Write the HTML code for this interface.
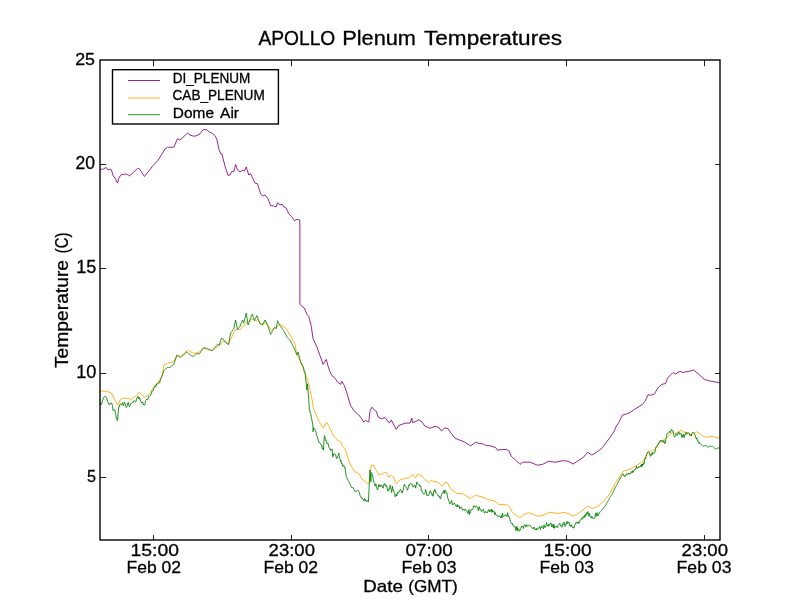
<!DOCTYPE html>
<html><head><meta charset="utf-8"><style>
html,body{margin:0;padding:0;background:#fff;width:800px;height:600px;overflow:hidden}
svg{display:block}
text{font-family:"Liberation Sans",sans-serif}
.tx{will-change:transform}
</style></head><body>
<svg width="800" height="600" viewBox="0 0 800 600">
<rect width="800" height="600" fill="#fff"/>
<defs><clipPath id="ax"><rect x="100" y="60" width="620" height="480"/></clipPath></defs>
<g clip-path="url(#ax)" fill="none" stroke-width="0.85" stroke-opacity="1.0" stroke-linejoin="round" stroke-linecap="butt">
<polyline stroke="#800080" points="100.00,169.00 102.50,169.40 106.25,167.50 108.10,170.00 110.00,169.10 111.50,170.00 113.10,175.60 115.00,178.10 117.50,183.10 118.75,178.10 121.25,174.60 125.60,174.00 127.50,174.60 129.60,175.90 137.50,168.50 139.40,168.75 144.40,176.50 152.50,166.25 158.10,160.25 165.00,149.00 167.50,147.25 173.75,147.25 177.50,138.75 180.00,140.00 187.50,133.10 190.00,135.00 193.75,136.25 196.90,135.60 200.00,133.75 203.10,129.75 206.90,129.75 208.75,131.50 212.50,133.50 215.00,135.60 216.90,139.40 218.75,148.75 220.60,153.75 221.90,153.75 225.00,166.25 228.10,175.40 230.00,175.00 231.90,171.25 233.75,171.90 235.60,164.40 237.50,170.00 240.00,171.90 243.10,170.00 244.40,171.00 246.25,166.90 248.75,175.00 250.60,173.75 255.00,183.10 257.50,183.75 260.60,193.75 262.50,196.00 265.00,195.00 268.10,198.75 270.60,205.60 273.75,206.00 276.25,206.90 277.50,202.75 280.00,204.75 282.50,204.40 283.75,206.90 286.25,208.10 288.75,213.75 291.25,216.25 294.40,220.60 296.90,219.40 299.85,220.00 299.85,304.40 301.90,306.25 304.40,308.10 306.90,314.40 308.75,316.25 311.25,326.25 313.10,338.75 316.90,346.90 320.00,355.60 323.10,364.40 326.25,359.40 328.10,366.25 330.00,371.90 331.90,375.60 334.40,377.50 337.50,381.90 340.60,384.40 341.90,381.25 344.40,385.60 346.90,393.10 350.60,405.60 354.40,411.25 360.00,416.25 363.75,421.90 365.60,420.40 368.75,422.10 370.00,411.25 371.90,407.25 374.40,410.00 376.25,411.25 378.10,416.90 381.25,418.75 385.00,417.50 389.40,423.10 391.25,420.00 396.25,429.40 398.75,425.60 405.00,423.10 410.00,423.10 411.90,418.10 412.50,422.50 415.00,421.90 418.75,419.75 421.90,421.90 425.00,426.25 430.00,428.30 435.00,426.25 438.75,427.50 441.50,431.00 445.00,427.75 448.10,428.75 451.25,433.50 455.00,438.10 460.00,440.25 464.40,441.90 470.60,445.90 475.60,442.25 479.40,443.50 482.50,443.75 485.60,445.40 490.00,445.75 495.60,447.50 497.50,450.25 500.00,449.75 506.25,449.40 508.75,450.60 511.25,456.25 516.25,460.60 520.00,464.40 522.50,462.25 530.00,462.10 537.50,465.25 542.50,464.40 548.75,461.25 555.00,462.25 563.10,460.60 568.10,461.25 573.10,464.00 577.50,461.25 583.75,456.90 587.50,452.25 591.90,455.00 598.10,451.25 602.50,447.50 610.00,437.50 613.75,431.90 616.25,426.25 618.75,422.50 622.50,415.00 626.25,414.00 630.00,412.50 634.40,409.40 642.50,404.40 645.00,401.25 648.10,394.75 650.60,395.25 654.40,394.00 658.10,387.50 661.90,384.40 665.60,383.50 667.50,378.10 673.10,372.50 675.60,374.00 680.00,371.25 682.50,372.50 688.10,371.50 693.75,370.00 698.10,373.75 704.40,379.40 710.00,381.00 715.00,381.90 720.00,382.75"/>
<polyline stroke="#ffa500" points="100.00,390.90 105.60,391.25 111.25,392.80 117.50,405.30 120.60,399.40 123.75,398.10 128.75,398.40 131.25,399.40 136.25,395.60 139.40,392.20 144.40,397.50 146.90,396.25 150.00,392.80 152.50,388.75 158.75,381.90 162.50,375.00 163.75,365.00 167.50,363.10 173.75,361.90 176.90,355.60 180.60,356.25 188.10,350.25 193.10,353.10 198.75,352.50 203.75,348.10 211.90,350.60 218.75,345.60 223.75,341.25 228.75,343.75 235.00,330.00 238.10,329.40 240.60,329.40 245.00,323.75 252.50,318.75 256.25,321.25 257.50,319.40 261.25,324.40 266.25,322.50 271.25,330.60 276.25,326.90 280.00,324.40 286.25,328.75 291.25,336.90 295.00,343.75 296.25,351.90 299.40,358.75 302.50,366.90 306.25,376.25 308.75,383.75 311.25,396.25 312.20,400.00 313.40,408.75 317.50,418.10 320.00,423.10 323.40,428.10 326.60,422.20 329.40,426.90 332.50,434.20 337.50,440.30 340.30,441.25 342.50,446.25 345.00,448.75 346.90,455.00 350.00,463.75 354.40,471.25 359.40,474.40 361.90,478.75 365.00,481.60 367.50,483.40 369.10,483.10 370.60,468.10 371.60,465.00 373.75,465.60 375.60,469.40 377.50,472.50 378.40,474.40 381.25,474.40 385.30,472.20 386.90,473.10 388.75,477.20 391.25,475.30 392.50,475.90 393.75,478.10 396.25,483.75 400.60,479.70 403.75,478.75 405.60,478.10 408.40,478.10 412.20,474.70 414.40,476.25 415.60,478.10 417.20,474.40 420.00,475.00 422.50,476.60 425.00,479.70 428.75,482.50 431.25,480.30 433.10,481.40 435.00,481.40 438.75,482.75 442.25,486.50 445.00,482.25 447.50,482.75 450.60,488.75 456.25,493.10 462.50,493.75 470.60,498.50 475.60,495.25 481.90,496.90 487.50,499.40 495.00,501.25 498.75,504.40 507.50,505.00 509.40,506.90 512.50,512.50 518.75,517.25 521.90,516.90 523.75,514.40 529.40,512.75 538.10,516.25 543.75,515.00 550.00,512.25 557.50,513.50 563.75,512.50 568.10,513.50 573.10,516.25 578.75,513.10 588.10,506.00 591.90,508.50 597.50,506.50 603.75,501.25 609.40,494.40 615.00,483.75 622.50,471.90 625.00,470.60 630.00,469.40 636.25,465.60 643.10,461.25 648.10,451.25 653.75,450.60 658.75,443.10 666.25,438.10 672.50,432.50 675.60,433.50 681.25,430.00 684.00,432.20 688.00,432.70 692.00,435.30 696.30,431.70 699.30,433.30 703.30,436.30 706.70,437.30 710.70,436.50 714.70,437.00 720.00,438.50"/>
<polyline stroke="#008000" points="100.00,402.50 100.90,405.00 101.43,404.49 101.97,402.97 102.50,400.00 103.06,399.31 103.62,397.81 104.18,396.77 104.74,397.03 105.30,396.25 105.93,396.58 106.57,397.46 107.20,400.00 107.72,401.65 108.23,403.05 108.75,404.40 109.37,404.79 109.98,403.38 110.60,404.10 111.10,403.45 111.60,402.80 112.50,406.25 113.10,410.60 113.75,409.94 114.40,409.40 114.92,409.91 115.43,413.62 115.95,415.29 116.47,419.02 116.98,418.92 117.50,420.60 118.12,413.62 118.75,406.90 119.27,406.96 119.78,404.98 120.30,403.75 121.25,405.00 121.88,404.57 122.50,402.50 123.40,405.60 124.05,403.57 124.70,402.20 125.22,404.16 125.73,406.66 126.25,407.50 126.79,406.88 127.33,405.12 127.86,402.78 128.40,402.50 128.90,405.10 129.40,406.90 130.00,405.39 130.60,403.75 131.23,403.98 131.87,403.11 132.50,402.50 133.00,402.85 133.50,401.19 134.00,400.60 134.63,401.22 135.27,402.07 135.90,401.90 136.43,399.16 136.97,398.01 137.50,396.60 138.13,396.45 138.77,398.98 139.40,397.50 140.02,398.88 140.63,401.02 141.25,401.90 141.78,403.02 142.30,402.78 142.82,402.20 143.35,405.04 143.88,404.37 144.40,405.30 145.02,404.18 145.63,400.59 146.25,400.00 146.79,399.02 147.32,399.96 147.86,399.53 148.39,396.48 148.93,395.87 149.46,396.45 150.00,395.90 150.54,395.50 151.07,393.93 151.61,393.00 152.14,390.78 152.68,391.14 153.21,390.56 153.75,388.50 154.27,387.50 154.79,386.00 155.31,386.00 155.83,386.77 156.35,383.92 156.88,384.79 157.40,383.38 157.92,383.55 158.44,382.84 158.96,382.47 159.48,383.21 160.00,381.25 160.54,379.73 161.07,378.21 161.61,376.69 162.14,375.16 162.68,373.64 163.21,372.12 163.75,370.60 164.29,370.16 164.82,369.71 165.36,369.27 165.89,368.83 166.43,368.39 166.96,367.94 167.50,367.50 168.00,367.50 168.50,367.50 169.00,367.50 169.50,367.50 170.00,367.50 170.54,367.06 171.07,366.61 171.61,366.17 172.14,365.73 172.68,365.29 173.21,364.84 173.75,364.40 174.28,362.83 174.80,361.27 175.32,359.70 175.85,358.13 176.38,356.57 176.90,355.00 177.43,355.36 177.96,355.71 178.49,356.07 179.01,356.43 179.54,356.79 180.07,357.14 180.60,357.50 181.12,357.03 181.65,356.57 182.18,356.10 182.70,355.63 183.22,355.17 183.75,354.70 184.28,354.23 184.80,353.77 185.32,353.30 185.85,352.83 186.38,352.37 186.90,351.90 187.42,352.42 187.93,352.93 188.45,353.45 188.97,353.97 189.48,354.48 190.00,355.00 190.52,355.25 191.03,355.50 191.55,355.75 192.07,356.00 192.58,356.25 193.10,356.50 193.62,356.04 194.15,355.58 194.68,355.12 195.20,354.67 195.72,354.21 196.25,353.75 196.78,353.79 197.30,353.83 197.82,353.88 198.35,353.92 198.88,353.96 199.40,354.00 199.94,353.19 200.49,352.38 201.03,351.56 201.57,350.75 202.12,349.94 202.66,349.12 203.21,348.31 203.75,347.50 204.25,347.69 204.75,347.88 205.25,348.07 205.75,348.26 206.25,348.45 206.75,348.64 207.25,348.83 207.75,349.02 208.25,349.21 208.75,349.40 209.29,349.57 209.82,349.74 210.36,349.91 210.89,350.09 211.43,350.26 211.96,350.43 212.50,350.60 213.00,349.98 213.50,349.36 214.00,348.74 214.50,348.12 215.00,347.50 215.50,346.88 216.00,346.26 216.50,345.64 217.00,345.02 217.50,344.40 218.13,344.60 218.77,344.80 219.40,345.00 220.02,342.83 220.63,340.67 221.25,338.50 221.87,338.58 222.48,338.67 223.10,338.75 223.73,339.80 224.37,340.85 225.00,341.90 225.50,342.31 226.00,342.71 226.50,343.12 227.00,343.53 227.50,343.94 228.00,344.34 228.50,344.75 229.03,341.84 229.55,338.93 230.07,336.01 230.60,333.10 231.12,332.38 231.65,331.65 232.18,330.93 232.70,330.20 233.22,329.48 233.75,328.75 234.37,325.83 234.98,322.92 235.60,320.00 236.23,323.13 236.87,326.27 237.50,329.40 238.00,328.77 238.50,328.14 239.00,327.51 239.50,326.88 240.00,326.25 240.50,325.00 241.00,323.75 241.50,322.50 242.00,321.25 242.50,320.00 243.12,321.55 243.75,323.10 244.25,321.10 244.75,319.10 245.25,317.10 245.75,315.10 246.25,313.10 246.87,317.07 247.48,321.03 248.10,325.00 248.62,323.62 249.14,322.25 249.66,320.88 250.18,319.50 250.69,318.12 251.21,316.75 251.73,315.38 252.25,314.00 252.79,315.65 253.32,317.30 253.86,318.95 254.40,320.60 255.03,319.35 255.65,318.10 256.27,316.85 256.90,315.60 257.42,316.96 257.93,318.32 258.45,319.68 258.97,321.03 259.48,322.39 260.00,323.75 260.50,324.00 261.00,324.25 261.50,324.50 262.00,324.75 262.50,325.00 263.00,324.00 263.50,323.00 264.00,322.00 264.50,321.00 265.00,320.00 265.50,321.00 266.00,322.00 266.50,323.00 267.00,324.00 267.50,325.00 268.02,326.57 268.53,328.13 269.05,329.70 269.57,331.27 270.08,332.83 270.60,334.40 271.14,333.41 271.69,332.43 272.23,331.44 272.77,330.46 273.31,329.47 273.86,328.49 274.40,327.50 275.02,327.92 275.63,328.33 276.25,328.75 276.88,324.68 277.50,320.60 278.00,321.60 278.50,322.60 279.00,323.60 279.50,324.60 280.00,325.60 280.55,326.39 281.10,327.18 281.65,327.96 282.20,328.75 282.75,329.54 283.30,330.32 283.85,331.11 284.40,331.90 284.90,332.90 285.40,333.90 285.90,334.90 286.40,335.90 286.90,336.90 287.42,337.42 287.93,337.93 288.45,338.45 288.97,338.97 289.48,339.48 290.00,340.00 290.54,341.07 291.07,342.14 291.61,343.21 292.14,344.29 292.68,345.36 293.21,346.43 293.75,347.50 294.27,348.75 294.80,350.00 295.32,351.25 295.85,352.50 296.38,353.75 296.90,355.00 297.50,353.45 298.10,351.90 298.73,354.60 299.37,357.30 300.00,360.00 300.63,361.67 301.27,363.83 301.90,363.75 302.52,365.28 303.13,366.60 303.75,368.75 304.37,372.25 304.98,372.48 305.60,378.10 306.25,384.01 306.90,390.00 307.50,383.75 308.12,392.04 308.75,400.00 309.40,410.60 309.90,410.63 310.40,413.60 310.90,414.40 311.60,418.75 312.20,421.32 312.80,425.00 313.10,431.90 313.75,427.69 314.40,428.40 315.00,429.29 315.60,430.60 316.10,432.12 316.60,435.60 317.20,436.75 317.80,438.78 318.40,440.60 318.97,442.73 319.54,442.46 320.11,443.21 320.68,444.51 321.25,445.00 321.79,444.51 322.32,448.89 322.86,447.90 323.40,450.30 323.90,443.39 324.40,435.60 325.00,436.97 325.60,440.60 326.10,440.12 326.60,441.20 327.10,444.00 327.60,443.30 328.10,443.10 328.60,446.90 329.10,447.22 329.60,448.47 330.10,448.52 330.60,450.60 331.13,450.07 331.67,449.03 332.20,449.10 332.60,456.60 333.12,456.61 333.65,453.82 334.18,454.13 334.70,453.75 335.25,454.16 335.80,455.53 336.35,458.21 336.90,458.75 337.52,456.99 338.13,455.57 338.75,453.10 339.38,457.11 340.00,458.75 340.50,461.40 341.00,460.38 341.50,463.79 342.00,462.99 342.50,466.25 343.12,465.56 343.75,465.00 344.38,468.17 345.00,467.50 345.62,472.01 346.25,476.90 346.88,477.58 347.50,479.00 348.13,480.54 348.77,481.75 349.40,483.10 349.90,484.18 350.40,484.44 350.90,486.25 351.53,487.65 352.17,487.77 352.80,487.20 353.30,487.80 353.80,489.13 354.30,490.29 354.80,491.47 355.30,491.25 355.93,491.33 356.57,491.31 357.20,490.30 357.75,490.59 358.30,490.33 358.85,491.45 359.40,492.50 360.00,495.39 360.60,496.25 361.16,497.98 361.72,497.90 362.28,497.93 362.84,499.56 363.40,500.00 363.90,500.86 364.40,498.40 364.95,500.63 365.50,499.47 366.05,500.98 366.60,501.90 367.20,500.45 367.80,500.76 368.40,501.90 368.90,492.09 369.40,481.90 370.00,470.00 370.90,481.90 371.25,472.50 371.88,473.77 372.50,475.00 373.40,480.00 374.05,482.84 374.70,483.75 375.00,486.25 375.90,483.75 376.43,487.10 376.97,488.75 377.50,490.00 378.12,488.52 378.75,484.40 379.38,485.10 380.00,486.90 380.53,485.14 381.07,486.13 381.60,485.00 382.50,486.90 383.12,488.15 383.75,484.40 384.25,484.88 384.75,483.49 385.25,485.00 385.75,486.31 386.25,485.00 386.87,486.05 387.48,489.97 388.10,491.25 388.65,489.08 389.20,489.40 389.75,487.35 390.30,485.00 390.95,489.05 391.60,492.50 392.50,486.25 393.03,490.33 393.57,490.01 394.10,492.50 394.60,493.06 395.10,496.85 395.60,496.25 396.23,494.12 396.87,495.95 397.50,492.50 398.12,492.76 398.75,493.10 399.37,490.83 399.98,490.63 400.60,489.40 401.13,490.76 401.67,492.07 402.20,493.10 402.72,490.84 403.23,490.05 403.75,486.90 404.37,484.36 404.98,485.91 405.60,486.25 406.25,487.24 406.90,488.75 407.50,490.24 408.10,488.10 408.60,485.11 409.10,485.76 409.60,483.96 410.10,483.44 410.60,483.10 411.23,484.17 411.87,484.38 412.50,484.40 413.12,487.09 413.75,486.90 414.38,485.35 415.00,485.00 415.60,488.10 416.25,485.27 416.90,481.90 417.52,483.91 418.13,484.47 418.75,484.40 419.27,484.46 419.78,486.33 420.30,485.60 420.85,486.40 421.40,490.85 421.95,490.93 422.50,492.50 423.03,493.02 423.57,494.04 424.10,494.40 424.60,493.58 425.10,492.81 425.60,489.40 426.25,492.36 426.90,495.60 427.52,495.03 428.13,495.79 428.75,495.00 429.37,492.88 429.98,490.80 430.60,491.25 431.10,493.09 431.60,492.87 432.10,495.38 432.60,494.22 433.10,496.25 433.63,491.47 434.17,491.97 434.70,489.40 435.26,490.55 435.82,493.00 436.38,492.93 436.94,493.71 437.50,494.40 438.02,495.71 438.53,495.48 439.05,496.65 439.57,495.95 440.08,498.70 440.60,498.75 441.23,495.62 441.87,494.00 442.50,492.50 443.00,493.03 443.50,492.93 444.00,490.05 444.50,493.58 445.00,490.60 445.63,490.66 446.27,493.35 446.90,493.10 447.52,497.05 448.13,498.82 448.75,501.25 449.29,501.79 449.84,504.21 450.38,503.34 450.93,503.08 451.47,500.44 452.01,502.15 452.56,504.95 453.10,503.75 453.61,504.23 454.13,502.96 454.64,503.60 455.15,504.26 455.67,505.78 456.18,505.62 456.70,506.64 457.21,504.51 457.72,507.08 458.24,505.37 458.75,506.25 459.27,506.12 459.79,509.03 460.31,507.13 460.83,507.12 461.35,507.29 461.88,507.32 462.40,510.11 462.92,510.14 463.44,509.54 463.96,509.11 464.48,510.49 465.00,509.40 465.50,509.61 466.00,510.61 466.50,510.85 467.00,510.76 467.50,513.09 468.00,513.54 468.50,513.29 469.00,509.39 469.50,514.58 470.00,512.50 470.54,512.43 471.07,509.94 471.61,509.51 472.14,510.04 472.68,509.10 473.21,507.70 473.75,505.60 474.25,506.03 474.75,506.15 475.25,507.43 475.75,506.48 476.25,505.68 476.75,506.29 477.25,507.17 477.75,508.03 478.25,510.79 478.75,508.10 479.27,506.64 479.79,509.35 480.31,508.93 480.83,509.76 481.35,511.44 481.88,511.61 482.40,510.11 482.92,509.91 483.44,509.18 483.96,511.17 484.48,513.20 485.00,511.90 485.50,511.43 486.00,512.56 486.50,512.44 487.00,511.91 487.50,512.68 488.00,510.99 488.50,509.94 489.00,509.36 489.50,511.96 490.00,510.16 490.50,510.10 491.00,511.46 491.50,509.23 492.00,512.43 492.50,510.00 493.04,511.67 493.57,510.92 494.11,511.58 494.64,514.61 495.18,512.46 495.71,513.97 496.25,515.60 496.79,515.70 497.32,516.05 497.86,515.90 498.39,516.47 498.93,515.59 499.46,516.00 500.00,516.25 500.50,517.77 501.00,516.84 501.50,515.29 502.00,517.98 502.50,513.04 503.00,515.61 503.50,516.24 504.00,516.51 504.50,515.27 505.00,515.00 505.54,514.68 506.07,516.12 506.61,515.28 507.14,516.33 507.68,512.64 508.21,516.57 508.75,516.25 509.38,517.10 510.00,520.00 510.54,522.12 511.07,522.76 511.61,523.63 512.14,523.05 512.68,525.03 513.21,524.91 513.75,526.25 514.26,526.98 514.78,526.98 515.29,526.48 515.80,530.64 516.32,529.46 516.83,526.30 517.35,530.59 517.86,528.07 518.37,530.04 518.89,530.04 519.40,531.25 519.92,529.72 520.43,529.90 520.95,528.33 521.47,526.03 521.98,527.08 522.50,526.25 523.02,526.67 523.54,528.44 524.06,525.55 524.58,524.49 525.10,525.48 525.62,526.77 526.15,524.72 526.67,524.88 527.19,526.48 527.71,525.69 528.23,525.94 528.75,525.60 529.26,525.06 529.77,525.08 530.28,526.00 530.79,526.50 531.30,526.54 531.81,527.81 532.32,528.24 532.83,528.51 533.33,528.70 533.84,527.20 534.35,527.17 534.86,529.94 535.37,529.19 535.88,529.61 536.39,528.22 536.90,530.00 537.41,529.44 537.92,528.61 538.43,528.03 538.94,528.05 539.45,526.65 539.95,528.42 540.46,529.54 540.97,526.83 541.48,527.59 541.99,525.76 542.50,526.90 543.02,527.56 543.54,528.91 544.06,524.67 544.58,525.77 545.10,527.71 545.62,526.13 546.15,525.59 546.67,522.58 547.19,524.83 547.71,526.01 548.23,526.48 548.75,524.40 549.27,525.44 549.79,524.06 550.31,524.13 550.83,522.87 551.35,524.04 551.88,527.11 552.40,525.71 552.92,524.33 553.44,527.99 553.96,524.31 554.48,528.33 555.00,526.90 555.50,526.27 556.00,526.92 556.50,527.15 557.00,526.40 557.50,527.50 558.00,525.66 558.50,525.01 559.00,524.36 559.50,523.13 560.00,523.90 560.50,525.87 561.00,525.45 561.50,525.98 562.00,527.21 562.50,523.75 563.00,524.68 563.50,524.40 564.00,522.04 564.50,523.43 565.00,526.60 565.50,524.44 566.00,523.57 566.50,524.15 567.00,521.29 567.50,523.75 568.01,522.95 568.52,522.62 569.03,521.83 569.54,525.89 570.05,526.44 570.55,525.24 571.06,526.20 571.57,524.73 572.08,526.92 572.59,527.61 573.10,526.90 573.62,528.26 574.15,527.66 574.67,525.63 575.20,524.20 575.73,522.66 576.25,523.10 576.76,521.98 577.28,523.23 577.79,522.83 578.30,521.78 578.82,523.58 579.33,521.93 579.85,520.77 580.36,520.16 580.87,520.17 581.39,518.50 581.90,519.40 582.40,517.44 582.90,518.47 583.40,516.57 583.90,516.29 584.40,517.54 584.90,515.01 585.40,516.28 585.90,513.87 586.40,515.16 586.90,512.50 587.44,513.80 587.99,511.61 588.53,516.21 589.08,515.03 589.62,513.45 590.16,516.85 590.71,517.60 591.25,518.10 591.77,516.21 592.29,516.89 592.81,518.19 593.33,519.10 593.85,518.54 594.38,518.44 594.90,518.10 595.42,513.20 595.94,515.28 596.46,516.26 596.98,512.56 597.50,515.60 598.00,515.98 598.50,515.51 599.00,512.72 599.50,512.61 600.00,512.48 600.50,511.86 601.00,511.24 601.50,510.61 602.00,509.99 602.50,509.37 603.00,508.74 603.50,508.12 604.00,507.50 604.50,506.87 605.00,506.25 605.50,505.38 606.00,504.50 606.50,503.62 607.00,502.75 607.50,501.88 608.00,501.00 608.50,500.12 609.00,499.25 609.50,498.38 610.00,497.50 610.63,496.47 611.27,495.43 611.90,494.40 612.44,493.30 612.99,492.20 613.53,491.10 614.08,490.00 614.62,488.90 615.16,487.80 615.71,486.70 616.25,485.60 616.77,484.67 617.29,483.73 617.81,482.80 618.33,481.87 618.85,480.93 619.38,480.00 619.90,479.07 620.42,477.19 620.94,477.18 621.46,476.23 621.98,475.33 622.50,474.40 623.02,473.69 623.53,475.40 624.05,474.98 624.57,476.58 625.08,476.25 625.60,476.25 626.12,474.24 626.65,473.76 627.17,474.74 627.70,473.66 628.23,474.09 628.75,473.10 629.37,474.21 629.98,473.72 630.60,474.00 631.14,471.74 631.69,471.66 632.23,472.86 632.77,470.66 633.31,472.25 633.86,470.48 634.40,470.00 634.92,470.20 635.43,468.48 635.95,468.95 636.47,466.23 636.98,468.21 637.50,468.10 638.01,468.39 638.52,466.64 639.03,466.41 639.54,466.92 640.05,466.76 640.55,465.60 641.06,466.80 641.57,464.20 642.08,466.68 642.59,463.88 643.10,465.00 643.60,462.87 644.10,463.71 644.60,460.08 645.10,458.11 645.60,458.53 646.10,456.22 646.60,454.71 647.10,453.82 647.60,452.47 648.10,451.90 648.73,451.96 649.37,452.94 650.00,455.00 650.55,456.37 651.10,453.85 651.65,455.26 652.20,452.64 652.75,454.36 653.30,452.32 653.85,452.88 654.40,453.10 654.92,452.39 655.43,449.87 655.95,447.09 656.47,447.15 656.98,446.19 657.50,445.00 658.04,444.94 658.57,442.74 659.11,442.82 659.64,442.55 660.18,440.21 660.71,441.12 661.25,440.60 661.79,440.22 662.32,441.94 662.86,441.84 663.39,442.23 663.93,440.44 664.46,443.19 665.00,443.75 665.50,441.25 666.00,438.55 666.50,436.85 667.00,433.97 667.50,433.10 668.05,432.89 668.60,432.98 669.15,432.53 669.70,431.03 670.25,432.84 670.80,431.63 671.35,429.44 671.90,430.00 672.42,431.01 672.93,430.67 673.45,433.33 673.97,435.31 674.48,437.02 675.00,436.90 675.54,435.77 676.07,433.68 676.61,434.59 677.14,435.40 677.68,433.47 678.21,433.89 678.75,431.90 679.29,433.27 679.84,434.55 680.38,434.13 680.92,433.41 681.47,435.06 682.01,437.66 682.56,435.19 683.10,436.25 683.61,434.02 684.12,437.61 684.63,435.54 685.14,434.13 685.66,433.78 686.17,432.48 686.68,434.35 687.19,433.42 687.70,432.90 688.20,432.67 688.70,433.28 689.20,433.67 689.70,435.57 690.20,434.72 690.70,435.30 691.28,435.98 691.85,433.06 692.42,432.59 693.00,432.50 693.65,432.62 694.30,433.70 694.83,434.20 695.36,435.69 695.89,437.85 696.41,439.08 696.94,437.84 697.47,441.24 698.00,441.00 698.52,441.65 699.04,443.70 699.57,442.50 700.09,443.22 700.61,443.78 701.13,444.33 701.66,444.89 702.18,445.44 702.70,446.00 703.21,445.93 703.73,445.86 704.24,445.79 704.76,445.71 705.27,445.64 705.79,445.57 706.30,445.50 707.00,446.40 707.70,447.30 708.23,446.93 708.77,446.57 709.30,446.20 709.87,446.22 710.43,446.23 711.00,446.25 711.57,446.27 712.13,446.28 712.70,446.30 713.22,446.86 713.74,447.42 714.26,447.98 714.78,448.54 715.30,449.10 715.82,448.92 716.34,448.74 716.87,448.57 717.39,448.39 717.91,448.21 718.43,448.03 718.96,447.86 719.48,447.68 720.00,447.50"/>
</g>
<path d="M100,477.50h6.3M720,477.50h-5.0M100,373.50h6.3M720,373.50h-5.0M100,268.50h6.3M720,268.50h-5.0M100,164.50h6.3M720,164.50h-5.0M153.50,540v-5.0M153.50,60v6.3M291.50,540v-5.0M291.50,60v6.3M428.50,540v-5.0M428.50,60v6.3M566.50,540v-5.0M566.50,60v6.3M704.50,540v-5.0M704.50,60v6.3" stroke="#222" stroke-width="1" fill="none"/>
<rect x="100" y="60" width="620" height="480" fill="none" stroke="#000" stroke-width="1.39"/>
<rect x="112.5" y="69.7" width="165.9" height="54.3" fill="#fff" stroke="#000" stroke-width="1.39"/>
<path d="M128,80.5h32" stroke="#800080" stroke-width="0.85" stroke-opacity="1.0"/>
<path d="M128,98.0h32" stroke="#ffa500" stroke-width="0.85" stroke-opacity="1.0"/>
<path d="M128,114.7h32" stroke="#008000" stroke-width="0.85" stroke-opacity="1.0"/>
<g class="tx" font-family="Liberation Sans, sans-serif" fill="#000" stroke="#000" stroke-width="0.3">
<text x="258.40" y="44.50" font-size="19.91" textLength="76.86" lengthAdjust="spacingAndGlyphs">APOLLO</text>
<text x="342.25" y="44.50" font-size="19.91" textLength="73.70" lengthAdjust="spacingAndGlyphs">Plenum</text>
<text x="424.00" y="44.50" font-size="19.91" textLength="138.00" lengthAdjust="spacingAndGlyphs">Temperatures</text>
<text x="75.20" y="65.00" font-size="17.30" textLength="19.77" lengthAdjust="spacingAndGlyphs">25</text>
<text x="75.50" y="168.90" font-size="17.44" textLength="19.54" lengthAdjust="spacingAndGlyphs">20</text>
<text x="76.20" y="273.00" font-size="17.59" textLength="20.20" lengthAdjust="spacingAndGlyphs">15</text>
<text x="76.20" y="378.00" font-size="17.59" textLength="20.20" lengthAdjust="spacingAndGlyphs">10</text>
<text x="87.00" y="481.90" font-size="17.30" textLength="9.00" lengthAdjust="spacingAndGlyphs">5</text>
<text x="130.50" y="556.00" font-size="17.15" textLength="48.53" lengthAdjust="spacingAndGlyphs">15:00</text>
<text x="126.60" y="572.80" font-size="16.86" textLength="54.44" lengthAdjust="spacingAndGlyphs">Feb 02</text>
<text x="268.60" y="556.00" font-size="17.15" textLength="46.41" lengthAdjust="spacingAndGlyphs">23:00</text>
<text x="263.50" y="572.80" font-size="16.86" textLength="54.52" lengthAdjust="spacingAndGlyphs">Feb 02</text>
<text x="405.60" y="556.00" font-size="17.15" textLength="47.02" lengthAdjust="spacingAndGlyphs">07:00</text>
<text x="401.60" y="572.80" font-size="16.86" textLength="54.85" lengthAdjust="spacingAndGlyphs">Feb 03</text>
<text x="543.60" y="556.00" font-size="17.15" textLength="48.02" lengthAdjust="spacingAndGlyphs">15:00</text>
<text x="539.60" y="572.80" font-size="16.86" textLength="54.44" lengthAdjust="spacingAndGlyphs">Feb 03</text>
<text x="681.60" y="556.00" font-size="17.15" textLength="46.41" lengthAdjust="spacingAndGlyphs">23:00</text>
<text x="676.60" y="572.80" font-size="16.86" textLength="54.85" lengthAdjust="spacingAndGlyphs">Feb 03</text>
<text x="363.30" y="591.60" font-size="16.28" textLength="39.56" lengthAdjust="spacingAndGlyphs">Date</text>
<text x="408.20" y="591.60" font-size="16.28" textLength="49.44" lengthAdjust="spacingAndGlyphs">(GMT)</text>
<text x="172.75" y="83.00" font-size="14.17" textLength="77.53" lengthAdjust="spacingAndGlyphs">DI_PLENUM</text>
<text x="172.50" y="99.80" font-size="13.95" textLength="92.26" lengthAdjust="spacingAndGlyphs">CAB_PLENUM</text>
<text x="172.80" y="117.80" font-size="13.95" textLength="41.22" lengthAdjust="spacingAndGlyphs">Dome</text>
<text x="220.00" y="117.80" font-size="13.95" textLength="19.05" lengthAdjust="spacingAndGlyphs">Air</text>
<text x="68.00" y="368.00" font-size="17.44" textLength="108.00" lengthAdjust="spacingAndGlyphs" transform="rotate(-90 68.00 368.00)">Temperature</text>
<text x="68.00" y="253.25" font-size="17.44" textLength="20.69" lengthAdjust="spacingAndGlyphs" transform="rotate(-90 68.00 253.25)">(C)</text>
</g>
</svg>
</body></html>
